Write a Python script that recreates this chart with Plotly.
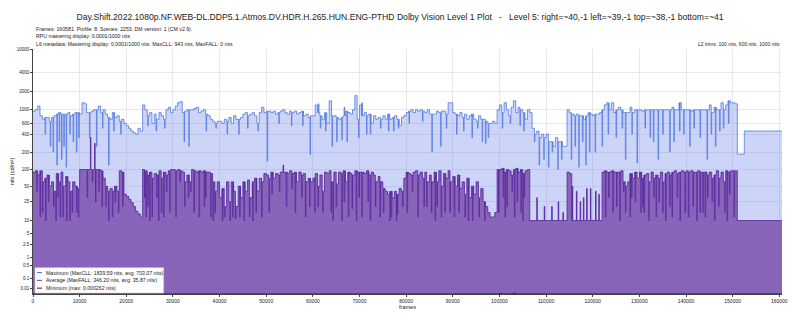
import numpy as np
import plotly.graph_objects as go

# ---------------- data (nits) ----------------
TOTAL_FRAMES = 160581
frame_step = 500          # baseline levels are read every 500 frames
spike_frames = 120        # short excursions (thin dips / spikes) last this many frames

# Maximum (per-frame MaxCLL) baseline level, every 500 frames
max_level = [
    950,1000,1150,800,700,750,750,650,750,800,850,900,850,850,850,900,800,850,900,900,
    850,1300,1250,900,900,950,1000,1000,1150,900,1000,850,750,700,900,750,800,650,700,600,
    550,500,450,420,400,500,450,1200,1000,800,900,600,850,700,900,800,700,1000,1100,900,
    1000,1150,1300,1350,900,950,1000,1000,1000,1050,1100,900,950,1000,850,800,700,650,600,650,
    650,600,700,650,750,600,800,700,700,750,850,900,800,850,900,800,600,900,1100,900,
    950,950,900,950,850,900,950,1000,900,850,950,900,950,850,900,950,800,850,750,800,
    800,1200,900,800,700,900,600,1400,800,800,750,700,750,800,950,900,850,1000,1700,700,
    1200,800,900,800,850,600,800,700,750,700,800,700,850,700,750,800,700,550,750,800,
    900,950,1000,900,1000,950,1000,950,900,1000,850,850,850,950,900,950,950,850,1300,1300,
    900,850,800,900,750,850,700,800,850,700,650,800,700,700,650,600,600,650,600,1000,
    1200,900,1300,1000,800,1100,1400,900,1100,1000,900,700,1000,900,500,400,450,350,400,350,
    400,300,300,250,350,300,300,250,250,1000,900,850,800,850,800,800,700,800,900,850,
    800,850,850,900,1000,1200,1300,1000,1300,900,1000,1100,1000,900,900,900,1100,900,1000,1000,
    1000,950,1000,1000,1000,1000,1000,1000,1000,1000,1000,1000,1000,1000,1100,1000,1000,1300,1000,1000,
    1000,1000,950,1000,1000,1000,1000,1000,1000,1000,1200,900,1100,1000,1000,1300,1000,1200,1400,1300,
    1300,1250,185,185,185,450,450,450,450,450,450,450,450,450,450,450,450,450,450,450,
    450,450,
]
# short dips / spikes of the maximum: frame, nits
max_dip_frames = [
    2600,3700,4300,5100,5600,6100,6600,7100,7900,8600,9300,9800,
    12100,13600,14900,16200,17300,18800,24600,26400,28200,
    32400,33400,37100,39200,41600,44100,46000,48200,
    50200,52700,55400,57800,59400,61200,61600,62700,63700,64100,65100,66200,66700,67300,69300,69800,70500,
    71500,72300,74500,76200,77300,78300,80600,83500,85500,87400,88600,
    90800,92300,94100,95300,96300,97000,97600,100600,102300,104400,105200,107500,108500,109500,
    110500,111300,112500,113300,115400,116200,117000,117800,118500,119300,
    120500,122000,123300,125000,126300,127000,128400,129500,
    131200,132300,133000,134000,135000,136500,137400,138600,139500,
    140800,141700,143000,144500,145400,146300,147200,148000,149100,
]
max_dip_nits = [
    400,250,200,120,300,150,250,110,400,300,200,350,
    350,250,500,120,450,400,550,450,500,
    300,250,450,500,400,400,500,450,
    140,600,550,550,180,1250,500,450,1400,250,300,320,1100,300,1700,350,1300,
    400,400,500,450,450,500,600,650,200,250,500,
    400,450,350,500,300,280,350,500,600,550,450,300,120,150,
    110,200,100,150,150,250,110,300,120,200,
    200,250,400,350,500,150,400,130,
    500,350,300,150,400,200,300,450,400,
    250,500,350,150,400,250,450,500,600,
]

# Average (per-frame FALL) baseline level, every 500 frames
avg_level = [
    90,95,80,95,60,70,80,50,60,40,85,60,90,50,75,60,40,60,50,45,
    100,100,100,100,100,100,100,100,100,95,70,50,40,45,40,50,40,95,90,35,
    32,28,24,20,16,14,12,100,95,80,90,70,85,80,95,70,90,80,95,100,
    100,95,100,95,90,60,80,60,100,95,90,95,90,95,90,90,85,60,40,60,
    30,45,20,60,25,60,40,20,50,30,60,40,65,30,60,70,40,70,60,85,
    80,70,90,70,85,80,90,90,90,85,95,85,90,60,90,80,85,60,70,60,
    70,85,50,80,40,90,85,95,60,90,55,90,85,95,60,90,85,80,95,90,
    90,90,85,95,80,90,80,60,75,60,45,40,35,40,30,40,35,45,40,70,
    90,85,80,90,95,80,90,70,90,60,80,60,90,60,95,50,85,70,95,60,
    75,50,80,45,60,35,70,30,50,35,60,30,45,25,20,15,12,12,15,100,
    100,105,90,100,95,80,100,105,90,100,85,95,100,10,10,10,10,10,10,10,
    10,10,10,10,10,10,10,10,10,90,85,10,10,10,10,10,10,10,10,10,
    10,10,10,10,90,95,90,90,95,90,90,90,95,60,50,60,85,70,90,70,
    90,70,80,85,60,90,70,80,70,90,60,85,90,80,90,95,85,90,95,90,
    95,90,95,90,90,95,90,90,90,80,90,70,80,95,70,90,60,95,90,95,
    95,95,10,10,10,10,10,10,10,10,10,10,10,10,10,10,10,10,10,10,
    10,10,
]
# short excursions of the average: frame, nits
avg_exc_frames = [
    800,1500,2000,2700,3300,4400,4900,5300,5800,6400,7200,7900,8400,9300,9700,
    11600,12300,12700,13200,13400,14100,14800,15600,16200,17000,17600,18300,19200,
    23900,24200,24600,25000,25500,26500,26900,27500,28000,28600,29300,
    30600,31500,32500,33300,33800,34500,35600,36700,37000,38100,38600,39000,
    40600,41100,42200,42800,43400,44300,45200,46400,47100,47800,49000,
    50600,51200,52800,53600,54300,55500,56200,57600,58400,59300,
    60400,61100,62100,63900,64300,65000,66200,66700,67600,68400,69300,69900,
    70500,71800,72300,73400,74400,75100,76500,76800,77900,78100,79200,
    80200,81300,82500,83800,84400,85400,86200,86600,87500,88300,89400,
    90300,91300,92600,93300,94200,95600,96800,
    99800,100800,101200,101600,102700,103200,103800,104600,105000,105300,108000,109600,
    111200,112600,113600,115600,116500,117300,118000,118700,119500,
    120600,121300,122700,123400,124300,125100,125800,126600,127000,128000,128300,129100,
    130300,130700,131000,132000,133100,133600,134200,135000,135600,136500,137000,138100,138700,139800,
    140500,141500,142300,143000,143600,144100,144600,145600,146100,147000,148300,148800,149300,150300,
]
avg_exc_nits = [
    40,12,15,10,25,20,10,30,12,12,10,10,15,15,12,
    30,350,60,280,25,40,20,20,10,12,25,15,20,
    30,12,20,10,12,30,10,15,12,40,15,
    12,60,20,30,40,15,12,20,30,12,10,15,
    10,12,10,12,11,12,10,12,10,15,12,
    15,35,40,120,20,45,15,30,12,20,
    15,20,15,15,10,20,10,25,12,18,10,30,
    12,25,10,20,12,15,10,12,10,14,20,
    15,40,12,20,20,15,10,20,12,15,15,
    12,15,12,10,10,12,10,
    15,30,12,20,40,12,25,15,10,30,30,20,
    20,25,15,50,40,25,30,45,45,
    40,35,12,30,15,20,10,40,15,12,30,25,
    15,20,15,10,30,12,25,15,10,20,12,30,10,15,
    12,20,10,15,15,12,30,25,10,20,15,10,35,12,
]

min_frames = [0, 100000, 100500, 103000, 103500, 160581]
min_nits = [0.0, 0.0002, 0.0, 0.000262, 0.0, 0.0]

y_tick_nits = [0.01, 0.1, 0.5, 1, 2.5, 5, 10, 25, 50, 100, 200, 400, 600, 1000, 2000, 4000, 10000]
y_tick_text = ["0.01", "0.1", "0.5", "1", "2.5", "5", "10", "25", "50", "100", "200",
               "400", "600", "1000", "2000", "4000", "10000"]
x_tick_vals = list(range(0, 160001, 10000))

title_text = ("Day.Shift.2022.1080p.NF.WEB-DL.DDP5.1.Atmos.DV.HDR.H.265.HUN.ENG-PTHD Dolby Vision Level 1 Plot"
              "   -   Level 5: right=~40,-1 left=~39,-1 top=~38,-1 bottom=~41")
info_lines = [
    "Frames: 160581. Profile: 8. Scenes: 2253. DM version: 1 (CM v2.9).",
    "RPU mastering display: 0.0001/1000 nits",
    "L6 metadata: Mastering display: 0.0001/1000 nits. MaxCLL: 943 nits, MaxFALL: 0 nits",
]
l2_text = "L2 trims: 100 nits, 600 nits, 1000 nits"
legend_labels = [
    "Maximum (MaxCLL: 1839.59 nits, avg: 703.07 nits)",
    "Average (MaxFALL: 346.20 nits, avg: 35.87 nits)",
    "Minimum (max: 0.000262 nits)",
]

# ---------------- PQ (SMPTE ST 2084) axis transform ----------------
m1, m2 = 2610 / 16384, 2523 / 4096 * 128
c1, c2, c3 = 3424 / 4096, 2413 / 4096 * 32, 2392 / 4096 * 32


def pq(nits):
    y = np.clip(np.asarray(nits, dtype=float) / 10000.0, 0, 1)
    ym = y ** m1
    return ((c1 + c2 * ym) / (1 + c3 * ym)) ** m2


def build_series(level, exc_frames, exc_vals):
    """Combine the 500-frame levels with short excursions into one step series."""
    pts = [(i * frame_step, v) for i, v in enumerate(level)]
    for f, v in zip(exc_frames, exc_vals):
        back = f + spike_frames
        pts.append((f, v))
        pts.append((back, level[min(back // frame_step, len(level) - 1)]))
    pts.sort(key=lambda p: p[0])
    pts.append((TOTAL_FRAMES, level[-1]))
    return [p[0] for p in pts], [p[1] for p in pts]


max_x, max_y = build_series(max_level, max_dip_frames, max_dip_nits)
avg_x, avg_y = build_series(avg_level, avg_exc_frames, avg_exc_nits)

MAX_FILL = "rgba(109,132,232,0.35)"
MAX_LINE = "rgba(65,110,225,0.9)"
AVG_FILL = "rgba(121,77,172,0.82)"
AVG_LINE = "rgba(78,22,148,0.9)"
MIN_LINE = "#222222"

fig = go.Figure()
fig.add_trace(go.Scatter(x=max_x, y=pq(max_y), customdata=max_y, mode="lines",
                         line=dict(color=MAX_LINE, width=0.8, shape="hv"),
                         fill="tozeroy", fillcolor=MAX_FILL, name=legend_labels[0],
                         hovertemplate="frame %{x}<br>%{customdata} nits<extra></extra>"))
fig.add_trace(go.Scatter(x=avg_x, y=pq(avg_y), customdata=avg_y, mode="lines",
                         line=dict(color=AVG_LINE, width=0.8, shape="hv"),
                         fill="tozeroy", fillcolor=AVG_FILL, name=legend_labels[1],
                         hovertemplate="frame %{x}<br>%{customdata} nits<extra></extra>"))
fig.add_trace(go.Scatter(x=min_frames, y=pq(min_nits), customdata=min_nits, mode="lines",
                         line=dict(color=MIN_LINE, width=1, shape="hv"), name=legend_labels[2],
                         hovertemplate="frame %{x}<br>%{customdata} nits<extra></extra>"))

FONT = "Liberation Sans, Arial, sans-serif"
W, H = 800, 322
ML, MR, MT, MB = 32, 17, 49, 22
PW, PH = W - ML - MR, H - MT - MB


def px_x(px):
    return (px - ML) / PW


def px_y(py):
    return (H - MB - py) / PH


annotations = []
for txt, py in zip(info_lines, [28, 36, 44]):
    annotations.append(dict(text=txt, xref="paper", yref="paper", x=px_x(33), y=px_y(py),
                            xanchor="left", yanchor="middle", showarrow=False,
                            font=dict(family=FONT, size=5.2, color="#222")))
annotations.append(dict(text=l2_text, xref="paper", yref="paper", x=1.0, y=px_y(44),
                        xanchor="right", yanchor="middle", showarrow=False,
                        font=dict(family=FONT, size=5, color="#222")))

shapes = [dict(type="rect", xref="paper", yref="paper", x0=px_x(34), x1=px_x(163),
               y0=px_y(299), y1=px_y(273), fillcolor="white", line=dict(color="#cccccc", width=0.6),
               layer="above")]
for lab, col, py in zip(legend_labels, ["rgb(70,115,225)", "rgb(110,50,185)", "#222"], [278, 286, 294]):
    shapes.append(dict(type="line", xref="paper", yref="paper", x0=px_x(36), x1=px_x(41),
                       y0=px_y(py), y1=px_y(py), line=dict(color=col, width=1), layer="above"))
    annotations.append(dict(text=lab, xref="paper", yref="paper", x=px_x(43.5), y=px_y(py),
                            xanchor="left", yanchor="middle", showarrow=False,
                            font=dict(family=FONT, size=5.2, color="#222")))

fig.update_layout(
    width=W, height=H,
    margin=dict(l=ML, r=MR, t=MT, b=MB),
    paper_bgcolor="white", plot_bgcolor="white",
    showlegend=False,
    font=dict(family=FONT, color="#222"),
    title=dict(text=title_text, x=0.5, xref="container", xanchor="center",
               y=1 - 17 / H, yref="container", yanchor="middle",
               font=dict(family=FONT, size=8.6, color="#222")),
    xaxis=dict(range=[0, TOTAL_FRAMES], tickvals=x_tick_vals, ticktext=[str(v) for v in x_tick_vals],
               showgrid=True, gridcolor="#e8e8e8", gridwidth=0.6, zeroline=False,
               showline=True, linecolor="#444", linewidth=0.8,
               ticks="outside", ticklen=2, tickcolor="#444", tickwidth=0.6,
               tickfont=dict(family=FONT, size=5, color="#222"),
               title=dict(text="frames", font=dict(family=FONT, size=5.5, color="#222"), standoff=2)),
    yaxis=dict(range=[0, 1], tickvals=list(pq(y_tick_nits)), ticktext=y_tick_text,
               showgrid=True, gridcolor="#e8e8e8", gridwidth=0.6, zeroline=False,
               showline=True, linecolor="#444", linewidth=0.8,
               ticks="outside", ticklen=2, tickcolor="#444", tickwidth=0.6,
               tickfont=dict(family=FONT, size=4.5, color="#222"),
               title=dict(text="nits (cd/m²)", font=dict(family=FONT, size=5.5, color="#222"), standoff=1)),
    annotations=annotations,
    shapes=shapes,
)

fig.write_html("out.html")
